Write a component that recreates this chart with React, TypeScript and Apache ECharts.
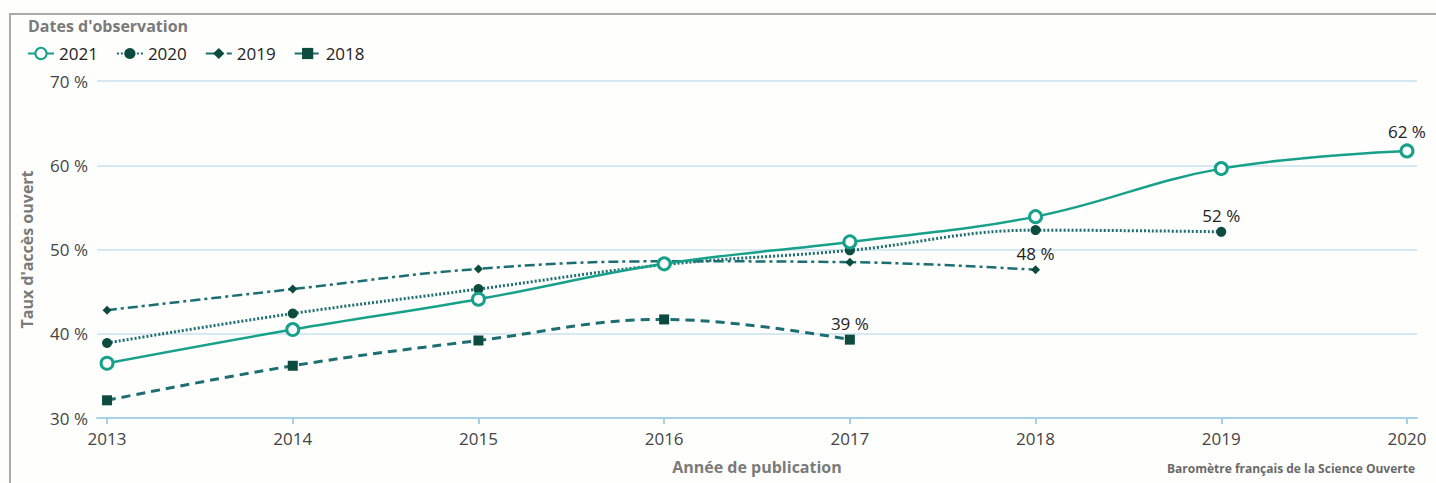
import React, { useEffect, useRef } from "react";
import * as echarts from "echarts";

const years = [2013, 2014, 2015, 2016, 2017, 2018, 2019, 2020];
const obs2021 = [36.5, 40.5, 44.1, 48.3, 50.9, 53.9, 59.6, 61.7];
const obs2020 = [38.9, 42.4, 45.3, 48.2, 49.9, 52.3, 52.1];
const obs2019 = [42.8, 45.3, 47.7, 48.6, 48.5, 47.6];
const obs2018 = [32.1, 36.2, 39.2, 41.7, 39.3];
const yTicks = [30, 40, 50, 60, 70];

const FONT = "'Open Sans', 'Noto Sans', sans-serif";
const TEAL = "#17a08a";
const DARK_LINE = "#1d6e72";
const DARK_MARK = "#0c4b3e";

function toData(vals: number[]) {
  return vals.map((v, i) => {
    const item: any = { value: [years[i], v] };
    if (i === vals.length - 1) {
      item.label = {
        show: true,
        position: "top",
        distance: 3,
        formatter: Math.round(v) + " %",
        color: "#222",
        fontSize: 17,
        fontFamily: FONT,
      };
    }
    return item;
  });
}

export default function App() {
  const ref = useRef<HTMLDivElement>(null);
  useEffect(() => {
    if (!ref.current) return;
    const chart = echarts.init(ref.current, null, { renderer: "svg" });
    const pad = 10 / 184.86;
    chart.setOption({
      animation: false,
      backgroundColor: "#fefefc",
      grid: { left: 97, right: 19, top: 81, bottom: 65, containLabel: false },
      legend: {
        left: 22,
        top: 40,
        itemWidth: 26,
        itemHeight: 14,
        itemGap: 18,
        textStyle: { color: "#222", fontSize: 17, fontFamily: FONT },
        data: ["2021", "2020", "2019", "2018"],
      },
      xAxis: {
        type: "value",
        min: 2013 - pad,
        max: 2020 + pad,
        name: "Année de publication",
        nameLocation: "middle",
        nameGap: 41,
        nameTextStyle: { color: "#7a7a7a", fontSize: 16, fontWeight: "bold", fontFamily: FONT },
        axisLine: { show: true, lineStyle: { color: "#a9d0ea", width: 2 } },
        axisTick: { show: true, length: 6, customValues: years, lineStyle: { color: "#a9d0ea", width: 2 } },
        axisLabel: {
          customValues: years,
          color: "#444",
          fontSize: 17,
          margin: 12,
          fontFamily: FONT,
          formatter: (v: number) => String(Math.round(v)),
        },
        splitLine: { show: false },
      },
      yAxis: {
        type: "value",
        min: 30,
        max: 70,
        interval: 10,
        name: "Taux d'accès ouvert",
        nameLocation: "middle",
        nameGap: 62,
        nameTextStyle: { color: "#7a7a7a", fontSize: 16, fontWeight: "bold", fontFamily: FONT },
        axisLine: { show: false },
        axisTick: { show: false },
        axisLabel: {
          color: "#444",
          fontSize: 17,
          margin: 9,
          fontFamily: FONT,
          formatter: (v: number) => (yTicks.includes(v) ? v + " %" : ""),
        },
        splitLine: { show: true, lineStyle: { color: "#c8e0ef", width: 1.5 } },
      },
      graphic: [
        {
          type: "polyline",
          shape: { points: [[10, 483], [10, 14], [1436, 14]] },
          style: { stroke: "#aaaaaa", lineWidth: 2, fill: "none" },
          silent: true,
        },
        {
          type: "text",
          left: 28,
          top: 18,
          style: { text: "Dates d'observation", fill: "#7a7a7a", font: "bold 16px 'Open Sans', sans-serif" },
        },
        {
          type: "text",
          right: 21,
          top: 462,
          style: { text: "Baromètre français de la Science Ouverte", fill: "#6a6a6a", font: "bold 12px 'Open Sans', sans-serif" },
        },
      ],
      series: [
        {
          name: "2018",
          type: "line",
          smooth: 0.4,
          data: toData(obs2018),
          symbol: "rect",
          symbolSize: 10,
          lineStyle: { color: DARK_LINE, width: 3, type: [9, 6] },
          itemStyle: { color: DARK_MARK },
          z: 2,
        },
        {
          name: "2019",
          type: "line",
          smooth: 0.4,
          data: toData(obs2019),
          symbol: "diamond",
          symbolSize: 9,
          lineStyle: { color: DARK_LINE, width: 2.5, type: [10, 4, 3, 4] },
          itemStyle: { color: DARK_MARK },
          z: 3,
        },
        {
          name: "2020",
          type: "line",
          smooth: 0.4,
          data: toData(obs2020),
          symbol: "circle",
          symbolSize: 10,
          lineStyle: { color: DARK_LINE, width: 3, type: [2, 2] },
          itemStyle: { color: DARK_MARK },
          z: 4,
        },
        {
          name: "2021",
          type: "line",
          smooth: 0.4,
          data: toData(obs2021),
          symbol: "circle",
          symbolSize: 12,
          showAllSymbol: true,
          lineStyle: { color: TEAL, width: 2.5 },
          itemStyle: { color: "#ffffff", borderColor: TEAL, borderWidth: 3 },
          z: 5,
        },
      ],
    });
    return () => chart.dispose();
  }, []);
  return (
    <div
      ref={ref}
      style={{ position: "fixed", left: 0, top: 0, width: 1436, height: 483 }}
    />
  );
}
